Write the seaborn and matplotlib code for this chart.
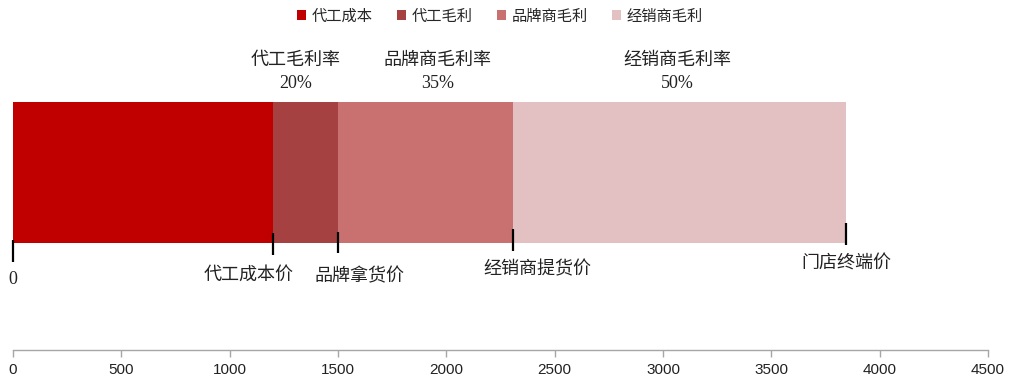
import numpy as np
import pandas as pd
import matplotlib
matplotlib.use("Agg")
import matplotlib.pyplot as plt
from matplotlib.patches import Patch
import seaborn as sns

# ---- data ----
categories = ["代工成本", "代工毛利", "品牌商毛利", "经销商毛利"]
values = [1200, 300, 808, 1538]
colors = ["#C00000", "#A64141", "#C87170", "#E3C1C3"]
margin_names = ["代工毛利率", "品牌商毛利率", "经销商毛利率"]
margin_rates = ["20%", "35%", "50%"]
price_labels = ["0", "代工成本价", "品牌拿货价", "经销商提货价", "门店终端价"]
xticks = [0, 500, 1000, 1500, 2000, 2500, 3000, 3500, 4000, 4500]

sns.set_theme(style="white")
plt.rcParams["font.family"] = ["Liberation Serif", "Noto Sans CJK SC"]

W, H = 1009, 379
fig = plt.figure(figsize=(W / 100, H / 100), dpi=100)
ax = fig.add_axes([13 / W, 1 - 350 / H, (988 - 13) / W, 310 / H])

cum = np.cumsum(values)
starts = np.concatenate([[0], cum[:-1]])

# stacked bar drawn as layered cumulative bars (largest first)
for i in range(len(values) - 1, -1, -1):
    df = pd.DataFrame({"total": [cum[i]], "row": ["price"]})
    sns.barplot(data=df, x="total", y="row", color=colors[i], width=0.8,
                linewidth=0, saturation=1, ax=ax, orient="h")

ax.set_xlim(0, 4500)
# bar spans pixel 102..243 inside axes 40..350
ppu = 141 / 0.8
ax.set_ylim((350 - 172.5) / ppu, -(172.5 - 40) / ppu)
ax.set_ylabel("")
ax.set_xlabel("")
ax.set_yticks([])
ax.set_xticks(xticks)
ax.set_xticklabels([str(t) for t in xticks], family="Liberation Sans", fontsize=11, color="#222222")
for s in ["top", "right", "left"]:
    ax.spines[s].set_visible(False)
ax.spines["bottom"].set_color("#A6A6A6")
ax.spines["bottom"].set_linewidth(1.0)
ax.tick_params(axis="x", direction="out", length=5, width=1, color="#A6A6A6", pad=4, bottom=True)

# price markers below the bar
markers = np.concatenate([[0], cum[[0, 1, 2, 3]]])
line_px = [(240, 262), (233, 255), (232, 253), (229, 251), (223, 245)]
label_dx = [0, -24, 21, 24, 0]
label_py = [280, 275, 277, 270, 264]
for v, (p0, p1), dx, py, lab in zip(markers, line_px, label_dx, label_py, price_labels):
    ax.plot([v, v], [1 - p0 / H, 1 - p1 / H], color="black", lw=1.6,
            transform=matplotlib.transforms.blended_transform_factory(ax.transData, fig.transFigure),
            clip_on=False, solid_capstyle="butt")
    ax.annotate(lab, xy=(v, 1 - py / H), xycoords=("data", "figure fraction"),
                xytext=(dx, 0), textcoords="offset pixels", ha="center", va="center",
                fontsize=13, color="#222222", annotation_clip=False)

# margin labels above segments
mids = starts[1:] + np.array(values[1:]) / 2
top_dx = [-10, 12, -2]
for m, name, rate, dx in zip(mids, margin_names, margin_rates, top_dx):
    ax.annotate(name, xy=(m, 1 - 60 / H), xycoords=("data", "figure fraction"),
                xytext=(dx, 0), textcoords="offset pixels", ha="center", va="center",
                fontsize=13, color="#222222", annotation_clip=False)
    ax.annotate(rate, xy=(m, 1 - 84 / H), xycoords=("data", "figure fraction"),
                xytext=(dx, 0), textcoords="offset pixels", ha="center", va="center",
                fontsize=13, color="#222222", annotation_clip=False)

handles = [Patch(facecolor=c, edgecolor="none", label=l) for c, l in zip(colors, categories)]
fig.legend(handles=handles, loc="center", bbox_to_anchor=(500 / W, 1 - 16 / H), ncol=4,
           frameon=False, handlelength=0.6, handleheight=0.6, handletextpad=0.35,
           columnspacing=1.6, prop={"family": ["Noto Sans CJK SC"], "size": 11})

fig.savefig("out.png", dpi=100)
